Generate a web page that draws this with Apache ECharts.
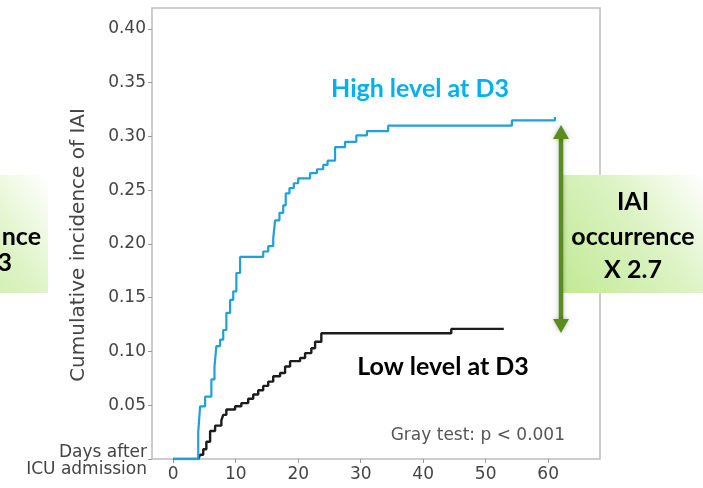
<!DOCTYPE html>
<html>
<head>
<meta charset="utf-8">
<script src="https://cdn.jsdelivr.net/npm/echarts@6/dist/echarts.min.js"></script>
<style>html,body{margin:0;padding:0;background:#fff;}#c{width:703px;height:488px;}</style>
</head>
<body>
<div id="c"></div>
<script>
// ---- data ----
const daysHigh = [0, 4.0, 4.3, 5.1, 6.1, 6.6, 6.9, 7.5, 8.0, 8.5, 9.1, 9.6, 10.1, 10.7, 14.4, 15.2, 16.0, 16.3, 17.0, 17.6, 18.0, 18.6, 19.3, 20.0, 21.9, 23.0, 24.0, 24.7, 25.9, 27.5, 29.3, 31.0, 34.4, 54.2, 61.1, 61.2];
const incHigh  = [0, 0.025, 0.049, 0.058, 0.074, 0.086, 0.105, 0.111, 0.120, 0.136, 0.148, 0.156, 0.173, 0.188, 0.193, 0.198, 0.205, 0.222, 0.229, 0.236, 0.247, 0.252, 0.2565, 0.261, 0.266, 0.2695, 0.2735, 0.2775, 0.290, 0.295, 0.301, 0.305, 0.310, 0.315, 0.318, 0.318];
const daysLow  = [0, 4.0, 4.3, 4.8, 5.3, 5.9, 6.7, 7.7, 8.0, 8.5, 9.9, 10.9, 12.0, 12.8, 13.6, 14.4, 15.2, 16.0, 17.1, 17.9, 18.7, 20.3, 21.1, 22.1, 22.7, 23.7, 44.5, 52.9];
const incLow   = [0, 0, 0.004, 0.009, 0.016, 0.026, 0.031, 0.036, 0.041, 0.046, 0.049, 0.052, 0.056, 0.060, 0.064, 0.068, 0.072, 0.077, 0.080, 0.086, 0.091, 0.094, 0.0985, 0.103, 0.109, 0.117, 0.121, 0.121];
const xTicks = [0, 10, 20, 30, 40, 50, 60];
const yTicks = [0, 0.05, 0.10, 0.15, 0.20, 0.25, 0.30, 0.35, 0.40];
const yLabelTicks = [0.05, 0.10, 0.15, 0.20, 0.25, 0.30, 0.35, 0.40];

const highData = daysHigh.map((d, i) => [d, incHigh[i]]);
const lowData = daysLow.map((d, i) => [d, incLow[i]]);

const chart = echarts.init(document.getElementById('c'));
const tickFont = {fontFamily: 'DejaVu Sans', fontSize: 17, color: '#444'};
const boxGradient = {type: 'linear', x: 0, y: 0.9, x2: 1, y2: 0,
  colorStops: [{offset: 0, color: '#c4ea98'}, {offset: 0.55, color: '#dcf3c4'}, {offset: 1, color: '#ffffff'}]};
const calib = {fontFamily: 'Lato', fontWeight: 'bold'};
const annSize = 25;

chart.setOption({
  animation: false,
  grid: {left: 152, top: 8, right: 103, bottom: 29, show: true, borderColor: '#bdbdbd', borderWidth: 1.5, backgroundColor: 'transparent'},
  xAxis: {
    type: 'value', min: -3.4, max: 68.3,
    axisLine: {show: false, onZero: false},
    axisTick: {show: true, length: 4, customValues: xTicks, lineStyle: {color: '#999'}},
    axisLabel: Object.assign({customValues: xTicks, margin: 7}, tickFont),
    splitLine: {show: false}
  },
  yAxis: {
    type: 'value', min: 0, max: 0.4195,
    axisLine: {show: false, onZero: false},
    axisTick: {show: true, length: 4, customValues: yTicks, lineStyle: {color: '#999'}},
    axisLabel: Object.assign({customValues: yLabelTicks, margin: 6, formatter: v => v.toFixed(2)}, tickFont),
    splitLine: {show: false}
  },
  series: [
    {type: 'line', step: 'end', data: lowData, showSymbol: false, symbol: 'none', lineStyle: {color: '#1c1c1c', width: 2.4}, z: 2},
    {type: 'line', step: 'end', data: highData, showSymbol: false, symbol: 'none', lineStyle: {color: '#1f9fdc', width: 2.2}, z: 3}
  ],
  graphic: [
    {type: 'text', x: 79, y: 245, rotation: Math.PI / 2, z: 100,
     style: {text: 'Cumulative incidence of IAI', fontFamily: 'DejaVu Sans', fontSize: 20, fill: '#444', align: 'center', verticalAlign: 'middle'}},
    {type: 'text', x: 147, y: 453, z: 100, style: {text: 'Days after', fontFamily: 'DejaVu Sans', fontSize: 17, fill: '#444', align: 'right', verticalAlign: 'middle'}},
    {type: 'text', x: 147, y: 470, z: 100, style: {text: 'ICU admission', fontFamily: 'DejaVu Sans', fontSize: 17, fill: '#444', align: 'right', verticalAlign: 'middle'}},
    {type: 'text', x: 565, y: 436, z: 100, style: {text: 'Gray test: p < 0.001', fontFamily: 'DejaVu Sans', fontSize: 17, fill: '#555', align: 'right', verticalAlign: 'middle'}},
    {type: 'text', x: 420, y: 89, z: 100, style: Object.assign({text: 'High level at D3', fontSize: annSize, fill: '#00b0f0', align: 'center', verticalAlign: 'middle'}, calib)},
    {type: 'text', x: 443, y: 367, z: 100, style: Object.assign({text: 'Low level at D3', fontSize: annSize, fill: '#000', align: 'center', verticalAlign: 'middle'}, calib)},
    // right box
    {type: 'rect', z: 90, shape: {x: 563, y: 175, width: 142, height: 118}, style: {fill: boxGradient}},
    {type: 'text', x: 633, y: 202, z: 100, style: Object.assign({text: 'IAI', fontSize: annSize, fill: '#000', align: 'center', verticalAlign: 'middle'}, calib)},
    {type: 'text', x: 633, y: 237, z: 100, style: Object.assign({text: 'occurrence', fontSize: annSize, fill: '#000', align: 'center', verticalAlign: 'middle'}, calib)},
    {type: 'text', x: 633, y: 270, z: 100, style: Object.assign({text: 'X 2.7', fontSize: annSize, fill: '#000', align: 'center', verticalAlign: 'middle'}, calib)},
    // left box (cut off)
    {type: 'rect', z: 90, shape: {x: -92, y: 175, width: 140, height: 118}, style: {fill: boxGradient}},
    {type: 'text', x: 41, y: 237, z: 100, style: Object.assign({text: 'nce', fontSize: annSize, fill: '#000', align: 'right', verticalAlign: 'middle'}, calib)},
    {type: 'text', x: 12, y: 263, z: 100, style: Object.assign({text: '3', fontSize: annSize, fill: '#000', align: 'right', verticalAlign: 'middle'}, calib)},
    // double arrow
    {type: 'line', z: 95, shape: {x1: 561, y1: 136, x2: 561, y2: 322}, style: {stroke: '#5b8c1e', lineWidth: 4.5, shadowBlur: 5, shadowColor: 'rgba(0,0,0,0.25)'}},
    {type: 'polygon', z: 96, shape: {points: [[553, 139], [561, 125], [569, 139]]}, style: {fill: '#5b8c1e', shadowBlur: 5, shadowColor: 'rgba(0,0,0,0.25)'}},
    {type: 'polygon', z: 96, shape: {points: [[553, 319], [561, 333], [569, 319]]}, style: {fill: '#5b8c1e', shadowBlur: 5, shadowColor: 'rgba(0,0,0,0.25)'}}
  ]
});
</script>
</body>
</html>
